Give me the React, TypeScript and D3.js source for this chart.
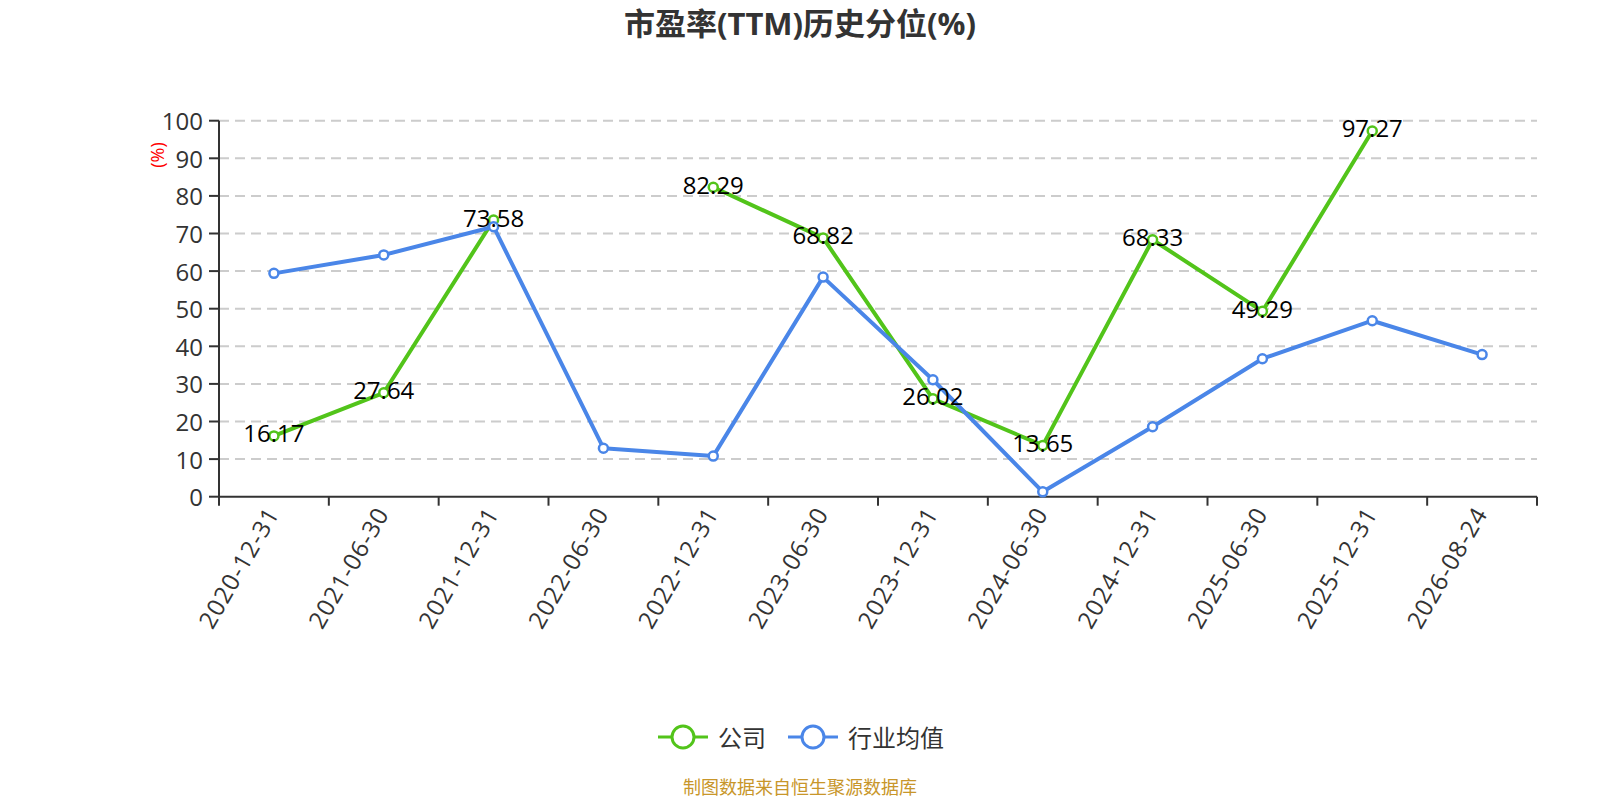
import React from "react";
import * as d3 from "d3";

const categories = [
  "2020-12-31", "2021-06-30", "2021-12-31", "2022-06-30", "2022-12-31", "2023-06-30",
  "2023-12-31", "2024-06-30", "2024-12-31", "2025-06-30", "2025-12-31", "2026-08-24",
];
const companyValues: (number | null)[] = [16.17, 27.64, 73.58, null, 82.29, 68.82, 26.02, 13.65, 68.33, 49.29, 97.27, null];
const industryValues: (number | null)[] = [59.4, 64.3, 71.8, 12.9, 10.8, 58.4, 31.1, 1.3, 18.6, 36.7, 46.8, 37.8];
const yTicks = [0, 10, 20, 30, 40, 50, 60, 70, 80, 90, 100];
const seriesNames = ["公司", "行业均值"];

const W = 1600;
const H = 800;
const FONT = "'Open Sans', 'Noto Sans CJK SC', sans-serif";
const GREEN = "#52c41a";
const BLUE = "#4a86e8";

export default function App() {
  const x = d3.scaleBand<string>().domain(categories).range([219, 1537]);
  const y = d3.scaleLinear().domain([0, 100]).range([496.7, 120.7]);
  const cx = (c: string) => (x(c) as number) + x.bandwidth() / 2;

  const line = d3
    .line<number | null>()
    .defined((d) => d != null)
    .x((_, i) => cx(categories[i]))
    .y((d) => y(d as number));

  const series = [
    { name: seriesNames[0], values: companyValues, color: GREEN, labels: true },
    { name: seriesNames[1], values: industryValues, color: BLUE, labels: false },
  ];

  const [x0, x1] = x.range();
  const y0 = y(0);

  return (
    <svg width={W} height={H} style={{ position: "absolute", left: 0, top: 0, background: "#fff" }} fontFamily={FONT}>
      <text x={800} y={23} textAnchor="middle" dominantBaseline="central" fontSize={31} fontWeight="bold" fill="#333">
        市盈率(TTM)历史分位(%)
      </text>

      {/* grid */}
      {yTicks.filter((t) => t !== 0).map((t) => (
        <line key={t} x1={x0} x2={x1} y1={y(t)} y2={y(t)} stroke="#ccc" strokeWidth={2} strokeDasharray="10 6" />
      ))}

      {/* y axis */}
      <line x1={x0} x2={x0} y1={y(100)} y2={y0} stroke="#333" strokeWidth={2} />
      {yTicks.map((t) => (
        <g key={t}>
          <line x1={x0 - 10} x2={x0} y1={y(t)} y2={y(t)} stroke="#333" strokeWidth={2} />
          <text x={x0 - 16} y={y(t)} textAnchor="end" dominantBaseline="central" fontSize={24} fill="#333">
            {t}
          </text>
        </g>
      ))}
      <text transform={`translate(157,155) rotate(-90)`} textAnchor="middle" dominantBaseline="central" fontSize={18} fill="red">
        (%)
      </text>

      {/* x axis */}
      <line x1={x0} x2={x1} y1={y0} y2={y0} stroke="#333" strokeWidth={2} />
      {categories.map((c) => (
        <line key={"t" + c} x1={x(c) as number} x2={x(c) as number} y1={y0} y2={y0 + 9} stroke="#333" strokeWidth={2} />
      ))}
      <line x1={x1} x2={x1} y1={y0} y2={y0 + 9} stroke="#333" strokeWidth={2} />
      {categories.map((c) => (
        <text
          key={"l" + c}
          transform={`translate(${cx(c) - 2},${y0 + 12}) rotate(-60)`}
          textAnchor="end"
          dominantBaseline="central"
          fontSize={24}
          letterSpacing={1}
          fill="#333"
        >
          {c}
        </text>
      ))}

      {/* series */}
      {series.map((s) => (
        <g key={s.name}>
          <path d={line(s.values) || ""} fill="none" stroke={s.color} strokeWidth={4} strokeLinejoin="round" />
          {s.values.map((v, i) =>
            v == null ? null : (
              <circle key={i} cx={cx(categories[i])} cy={y(v)} r={4.5} fill="#fff" stroke={s.color} strokeWidth={2.5} />
            )
          )}
        </g>
      ))}
      {series
        .filter((s) => s.labels)
        .map((s) =>
          s.values.map((v, i) =>
            v == null ? null : (
              <text
                key={s.name + i}
                x={cx(categories[i])}
                y={y(v) - 3}
                textAnchor="middle"
                dominantBaseline="central"
                fontSize={24}
                fill="#000"
              >
                {v.toFixed(2)}
              </text>
            )
          )
        )}

      {/* legend */}
      {series.map((s, i) => {
        const lx = i === 0 ? 658 : 788;
        const ly = 737;
        return (
          <g key={"lg" + s.name}>
            <line x1={lx} x2={lx + 50} y1={ly} y2={ly} stroke={s.color} strokeWidth={3} />
            <circle cx={lx + 25} cy={ly} r={11} fill="#fff" stroke={s.color} strokeWidth={3} />
            <text x={lx + 60} y={ly} dominantBaseline="central" fontSize={24} fill="#333">
              {s.name}
            </text>
          </g>
        );
      })}

      <text x={800} y={787} textAnchor="middle" dominantBaseline="central" fontSize={18} fill="#c8962a">
        制图数据来自恒生聚源数据库
      </text>
    </svg>
  );
}
